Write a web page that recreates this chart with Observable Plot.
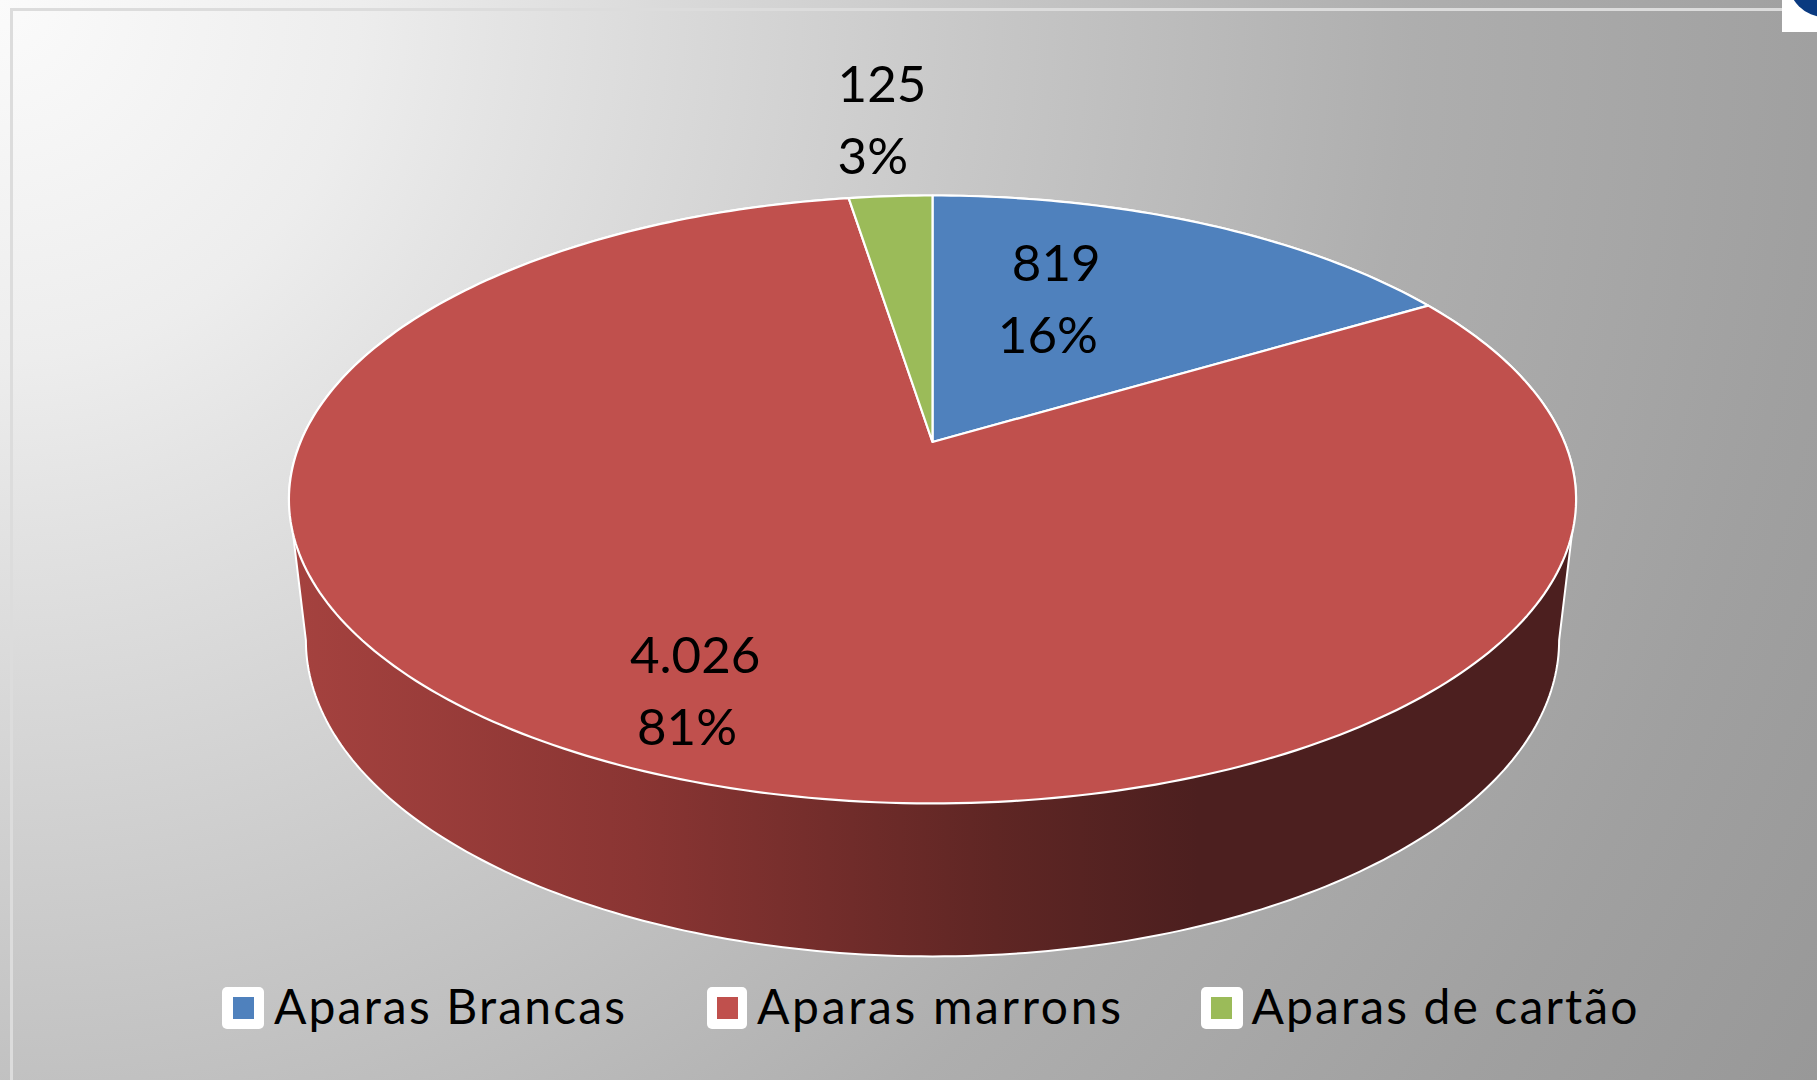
<!DOCTYPE html>
<html>
<head>
<meta charset="utf-8">
<script src="https://cdn.jsdelivr.net/npm/d3@7"></script>
<script src="https://cdn.jsdelivr.net/npm/@observablehq/plot@0.6"></script>
<style>
  html, body { margin: 0; padding: 0; overflow: hidden; background: #fff; }
  #stage { position: relative; width: 1817px; height: 1080px; overflow: hidden;
    background: radial-gradient(circle 2114px at 0 0, #fbfbfb 0, #ededed 360px, #e4e4e4 500px, #c6c6c6 1000px, #aeaeae 1414px, #a0a0a0 1817px, #989898 2114px); }
  #stage svg { position: absolute; left: 0; top: 0; background: transparent; }
  .frame { position: absolute; background: #dcdcdc; }
  #badge { position: absolute; left: 1782px; top: 0; width: 35px; height: 32px; background: #fff; overflow: hidden; }
  #badge i { position: absolute; left: 6px; top: -57px; width: 74px; height: 74px; border-radius: 50%; background: #0a3a80; }
  .item { position: absolute; top: 987px; height: 42px; }
  .box { position: absolute; top: 0; height: 42px; background: #fff; border-radius: 5px; }
  .swatch { position: absolute; top: 10px; height: 22px; }
  .lab { position: absolute; top: -5px; line-height: 48px; white-space: nowrap; color: #000; font-family: Lato, sans-serif; font-size: 48px; }
</style>
</head>
<body>
<div id="stage">
  <div class="frame" style="left:10px;top:8px;width:3px;height:1072px"></div>
  <div class="frame" style="left:10px;top:8px;width:1772px;height:3px"></div>
  <div id="badge"><i></i></div>
</div>
<script>
// ---- data ----
const categories = ["Aparas Brancas", "Aparas marrons", "Aparas de cartão"];
const values = [819, 4026, 125];
const valueLabels = ["819", "4.026", "125"];
const percentLabels = ["16%", "81%", "3%"];
const colors = ["#4f81bd", "#c0504d", "#9bbb59"];

// ---- layout (tilted-disc projection and label offsets) ----
const W = 1817, H = 1080;
const apex = {x: 932, y: 441.5};
const persp = -0.189, bx = 632, by = 293.1;
const project = (deg, r = 1) => {
  const t = deg * Math.PI / 180, px = r * Math.sin(t), py = -r * Math.cos(t), d = 1 + persp * py;
  return {x: apex.x + bx * px / d, y: apex.y + by * py / d};
};
const wallShift = {cy0: 499, cy1: 640, sx: 627 / 644, sy: 316 / 304};
const toBottom = (p) => ({x: apex.x + (p.x - apex.x) * wallShift.sx, y: wallShift.cy1 + (p.y - wallShift.cy0) * wallShift.sy});
const labelRadius = [0.6, 0.6, 1.1];
const labelNudge = [-1.5, 1.5];
const valueOffset = [[-90, -40], [-121.5, 36], [-48, -92]];
const percentOffset = [[-104, 32], [-114.5, 108], [-48, -20]];
const legendX = [
  {box: 222, boxW: 42, sw: 233, swW: 21, text: 274, textW: 351},
  {box: 707, boxW: 40, sw: 717, swW: 21, text: 757, textW: 364},
  {box: 1201, boxW: 42, sw: 1211, swW: 21, text: 1251.5, textW: 386}
];

// ---- geometry from values ----
const arcs = d3.pie().sort(null).value(d => d)(values).map((a, i) => ({
  i, name: categories[i], start: a.startAngle * 180 / Math.PI, end: a.endAngle * 180 / Math.PI
}));

const slicePts = arcs.flatMap(a => {
  const pts = [{name: a.name, x: apex.x, y: apex.y}];
  const steps = Math.max(4, Math.ceil(a.end - a.start));
  for (let s = 0; s <= steps; s++) {
    const p = project(a.start + (a.end - a.start) * s / steps);
    pts.push({name: a.name, x: p.x, y: p.y});
  }
  return pts;
});

const extreme = Math.acos(persp) * 180 / Math.PI; // widest point of the disc
const wallPts = [];
for (let s = 0; s <= 180; s++) {
  const deg = extreme + (360 - 2 * extreme) * s / 180;
  wallPts.push(toBottom(project(deg)));
}
for (let s = 0; s <= 180; s++) {
  const deg = (360 - extreme) + (2 * extreme) * s / 180;
  wallPts.push(project(deg));
}

const labelRows = arcs.flatMap(a => {
  const p = project((a.start + a.end) / 2, labelRadius[a.i]);
  return [
    {text: valueLabels[a.i], x: p.x + valueOffset[a.i][0] + labelNudge[0], y: p.y + valueOffset[a.i][1] + labelNudge[1]},
    {text: percentLabels[a.i], x: p.x + percentOffset[a.i][0] + labelNudge[0], y: p.y + percentOffset[a.i][1] + labelNudge[1]}
  ];
});

const gradientDefs = () => {
  const svgNS = "http://www.w3.org/2000/svg";
  const defs = document.createElementNS(svgNS, "defs");
  const g = document.createElementNS(svgNS, "linearGradient");
  g.setAttribute("id", "wallGrad");
  g.setAttribute("gradientUnits", "userSpaceOnUse");
  g.setAttribute("x1", 290); g.setAttribute("x2", 1570); g.setAttribute("y1", 0); g.setAttribute("y2", 0);
  [[0, "#a5423f"], [0.27, "#8a3533"], [0.55, "#5f2624"], [0.71, "#4c1f1f"], [1, "#4c1f1f"]].forEach(([o, c]) => {
    const st = document.createElementNS(svgNS, "stop");
    st.setAttribute("offset", o); st.setAttribute("stop-color", c);
    g.appendChild(st);
  });
  defs.appendChild(g);
  return defs;
};

const chart = Plot.plot({
  width: W, height: H,
  margin: 0,
  x: {domain: [0, W], range: [0, W], axis: null},
  y: {domain: [0, H], range: [0, H], axis: null},
  color: {domain: categories, range: colors},
  style: {background: "transparent"},
  marks: [
    gradientDefs,
    Plot.line(wallPts, {x: "x", y: "y", curve: "linear-closed", fill: "url(#wallGrad)", stroke: "#fff", strokeWidth: 2}),
    Plot.line(slicePts, {x: "x", y: "y", z: "name", curve: "linear-closed", fill: "name", stroke: "#fff", strokeWidth: 2.2, strokeLinejoin: "round"}),
    Plot.text(labelRows, {x: "x", y: "y", text: "text", textAnchor: "start", lineAnchor: "middle",
      fontFamily: "Lato, sans-serif", fontSize: 51, letterSpacing: "-0.6px", fill: "#000"})
  ]
});
const stage = document.getElementById("stage");
stage.insertBefore(chart, stage.firstChild);

categories.forEach((c, i) => {
  const l = legendX[i];
  const item = document.createElement("div");
  item.className = "item";
  item.style.left = "0px";
  item.innerHTML = `<div class="box" style="left:${l.box}px;width:${l.boxW}px"></div>` +
    `<div class="swatch" style="left:${l.sw}px;width:${l.swW}px;background:${colors[i]}"></div>` +
    `<div class="lab" style="left:${l.text}px">${c}</div>`;
  stage.appendChild(item);
  const lab = item.querySelector(".lab");
  const w = lab.getBoundingClientRect().width;
  lab.style.letterSpacing = ((l.textW - w) / (c.length - 1)) + "px";
});
</script>
</body>
</html>
